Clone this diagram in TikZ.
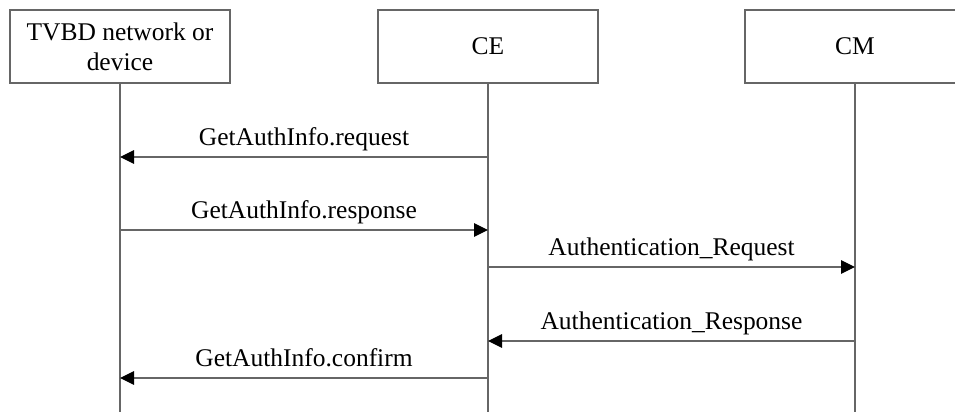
\documentclass[tikz,border=0pt]{standalone}
\usepackage{fontspec}
\setmainfont{Liberation Serif}
\usetikzlibrary{arrows.meta}
\tikzstyle{entity}=[draw,rectangle,minimum width=4.4cm,minimum height=1.46cm,align=center,inner sep=0pt]
\tikzstyle{msg}=[-{Triangle[length=0.28cm,width=0.27cm,color=black]}]
\tikzstyle{msgtext}=[midway,anchor=base,yshift=0.22cm,inner sep=0pt,text=black]

\begin{document}
\begin{tikzpicture}[line width=0.7pt,draw=black!60,font=\fontsize{14.5}{17}\selectfont]
\clip (0,0) rectangle (19.1,-8.24);

\node[entity](tvbd) at (2.4,-0.93) {TVBD network or\\device};
\node[entity](ce) at (9.76,-0.93) {CE};
\node[entity](cm) at (17.1,-0.93) {CM};

\coordinate (bottom) at (0,-8.3);
\draw (tvbd.south) -- (tvbd |- bottom);
\draw (ce.south) -- (ce |- bottom);
\draw (cm.south) -- (cm |- bottom);

\coordinate (m1) at (0,-3.14);
\coordinate (m2) at (0,-4.6);
\coordinate (m3) at (0,-5.34);
\coordinate (m4) at (0,-6.82);
\coordinate (m5) at (0,-7.56);

\draw[msg] (ce |- m1) -- (tvbd |- m1) node[msgtext] {GetAuthInfo.request};
\draw[msg] (tvbd |- m2) -- (ce |- m2) node[msgtext] {GetAuthInfo.response};
\draw[msg] (ce |- m3) -- (cm |- m3) node[msgtext] {Authentication\_Request};
\draw[msg] (cm |- m4) -- (ce |- m4) node[msgtext] {Authentication\_Response};
\draw[msg] (ce |- m5) -- (tvbd |- m5) node[msgtext] {GetAuthInfo.confirm};

\end{tikzpicture}
\end{document}
